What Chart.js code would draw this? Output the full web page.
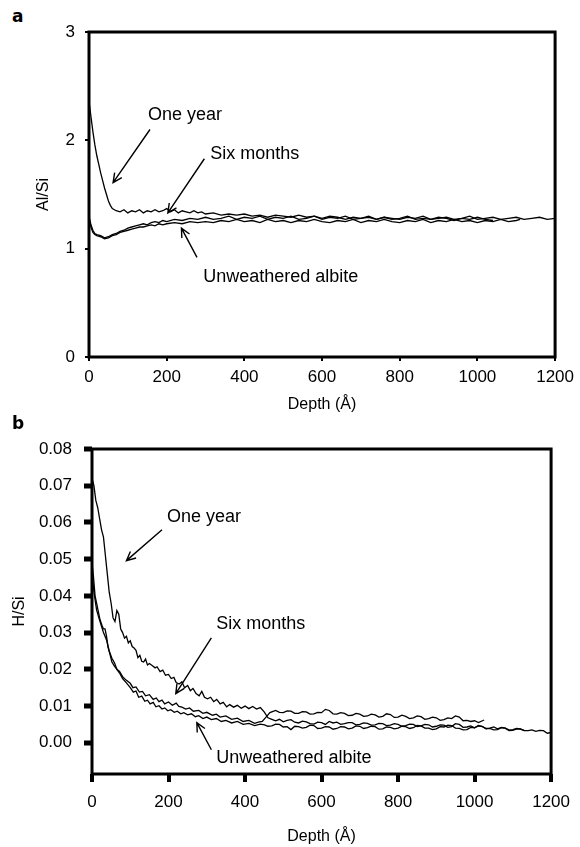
<!DOCTYPE html>
<html>
<head>
<meta charset="utf-8">
<script src="https://cdn.jsdelivr.net/npm/chart.js@4.4.1/dist/chart.umd.min.js"></script>
<style>
  body { margin: 0; background: #fff; }
  #wrap { position: relative; width: 580px; height: 847px; }
  canvas { position: absolute; left: 0; }
  .tag { position: absolute; left: 12px; font: bold 17px/17px "DejaVu Sans", Arial, sans-serif; color: #000; }
</style>
</head>
<body>
<div id="wrap">
  <div class="tag" style="top:8px">a</div>
  <canvas id="al-chart" width="580" height="415" style="top:0"></canvas>
  <div class="tag" style="top:415px">b</div>
  <canvas id="h-chart" width="580" height="427" style="top:420px"></canvas>
</div>
<script>
// tick values
const depthTicks = [0, 200, 400, 600, 800, 1000, 1200];
const alTicks = [0, 1, 2, 3];
const hTicks = [0, 0.01, 0.02, 0.03, 0.04, 0.05, 0.06, 0.07, 0.08];

// --- panel a: Al/Si vs depth (Å) ---
const oneYearAl = [
  [0,2.36],[5,2.22],[10,2.08],[15,1.96],[20,1.86],[25,1.78],[30,1.70],[35,1.63],[40,1.56],[45,1.50],
  [50,1.44],[55,1.40],[60,1.37],[70,1.35],[80,1.34],[90,1.36],[100,1.33],[110,1.35],[120,1.34],[130,1.36],
  [140,1.33],[150,1.35],[160,1.34],[170,1.36],[180,1.34],[190,1.35],[200,1.37],[210,1.34],[220,1.36],[230,1.33],
  [240,1.35],[250,1.34],[260,1.33],[270,1.35],[280,1.33],[290,1.34],[300,1.32],[320,1.33],[340,1.31],[360,1.32],
  [380,1.31],[400,1.32],[420,1.30],[440,1.31],[460,1.29],[480,1.31],[500,1.30],[520,1.29],[540,1.31],[560,1.29],
  [580,1.30],[600,1.28],[620,1.30],[640,1.29],[660,1.27],[680,1.29],[700,1.28],[720,1.30],[740,1.27],[760,1.29],
  [780,1.28],[800,1.27],[820,1.29],[840,1.28],[860,1.30],[880,1.27],[900,1.28],[920,1.29],[940,1.27],[960,1.28],
  [980,1.30],[1000,1.27],[1020,1.28],[1040,1.29],[1060,1.27],[1080,1.28],[1100,1.29],[1120,1.27],[1140,1.28],[1160,1.29],
  [1180,1.27],[1200,1.28]
];
const sixMonthsAl = [
  [0,1.30],[5,1.22],[10,1.17],[15,1.14],[20,1.13],[30,1.12],[40,1.10],[50,1.11],[60,1.13],[70,1.14],
  [80,1.16],[90,1.17],[100,1.19],[110,1.20],[120,1.21],[130,1.22],[140,1.23],[150,1.22],[160,1.24],[170,1.25],
  [180,1.24],[190,1.26],[200,1.25],[220,1.27],[240,1.26],[260,1.28],[280,1.27],[300,1.29],[320,1.27],[340,1.28],
  [360,1.30],[380,1.27],[400,1.29],[420,1.28],[440,1.30],[460,1.27],[480,1.29],[500,1.28],[520,1.30],[540,1.27],
  [560,1.28],[580,1.30],[600,1.27],[620,1.29],[640,1.28],[660,1.30],[680,1.27],[700,1.28],[720,1.29],[740,1.27],
  [760,1.29],[780,1.27],[800,1.28],[820,1.30],[840,1.27],[860,1.28],[880,1.27],[900,1.29],[920,1.28],[940,1.26],
  [960,1.28],[980,1.27],[1000,1.29],[1020,1.27],[1040,1.26]
];
const unweatheredAl = [
  [0,1.28],[5,1.20],[10,1.15],[15,1.13],[20,1.12],[30,1.11],[40,1.09],[50,1.10],[60,1.12],[70,1.13],
  [80,1.15],[90,1.16],[100,1.17],[110,1.18],[120,1.19],[130,1.20],[140,1.20],[150,1.21],[160,1.22],[170,1.21],
  [180,1.23],[190,1.22],[200,1.23],[220,1.24],[240,1.23],[260,1.25],[280,1.24],[300,1.25],[320,1.24],[340,1.26],
  [360,1.25],[380,1.27],[400,1.25],[420,1.26],[440,1.24],[460,1.27],[480,1.25],[500,1.26],[520,1.24],[540,1.26],
  [560,1.25],[580,1.27],[600,1.25],[620,1.24],[640,1.26],[660,1.25],[680,1.27],[700,1.24],[720,1.26],[740,1.25],
  [760,1.27],[780,1.25],[800,1.24],[820,1.26],[840,1.25],[860,1.27],[880,1.24],[900,1.26],[920,1.25],[940,1.27],
  [960,1.25],[980,1.26],[1000,1.24],[1020,1.26],[1040,1.25],[1060,1.27],[1080,1.25],[1100,1.26],[1110,1.27]
];

// --- panel b: H/Si vs depth (Å) ---
const oneYearH = [
  [0,0.072],[5,0.070],[10,0.066],[15,0.064],[20,0.061],[25,0.058],[30,0.056],[35,0.051],[40,0.046],[45,0.041],
  [50,0.038],[55,0.034],[60,0.033],[65,0.036],[70,0.035],[75,0.031],[80,0.030],[85,0.0285],[90,0.029],[95,0.0272],
  [100,0.0278],[105,0.0262],[110,0.0258],[115,0.0252],[120,0.0232],[125,0.0238],[130,0.0222],[135,0.0220],[140,0.0228],[145,0.0212],
  [150,0.0216],[158,0.0210],[165,0.0204],[170,0.0207],[178,0.0194],[185,0.0198],[192,0.0184],[200,0.0186],[207,0.0175],[214,0.0178],
  [220,0.0164],[228,0.0160],[235,0.0166],[242,0.0150],[250,0.0156],[257,0.0142],[264,0.0148],[272,0.0134],[280,0.0128],[287,0.0140],
  [294,0.0124],[302,0.0120],[310,0.0124],[318,0.0112],[326,0.0118],[335,0.0106],[343,0.0110],[352,0.0098],[360,0.0104],[370,0.0097],
  [380,0.0102],[390,0.0094],[400,0.0100],[410,0.0093],[420,0.0099],[430,0.0092],[440,0.0096],[450,0.0084],[460,0.0068],[470,0.0064],
  [480,0.0060],[490,0.0064],[500,0.0057],[510,0.0061],[520,0.0063],[530,0.0056],[540,0.0054],[550,0.0059],[560,0.0057],[570,0.0052],
  [580,0.0051],[590,0.0056],[600,0.0055],[610,0.0050],[620,0.0058],[630,0.0054],[640,0.0056],[650,0.0050],[660,0.0052],[670,0.0055],
  [680,0.0055],[690,0.0049],[700,0.0050],[710,0.0054],[720,0.0053],[730,0.0048],[740,0.0049],[750,0.0053],[760,0.0052],[770,0.0047],
  [780,0.0048],[790,0.0052],[800,0.0050],[810,0.0045],[820,0.0047],[830,0.0051],[840,0.0050],[850,0.0044],[860,0.0046],[870,0.0050],
  [880,0.0049],[890,0.0043],[900,0.0045],[910,0.0049],[920,0.0048],[930,0.0042],[940,0.0044],[950,0.0052],[960,0.0050],[970,0.0042],
  [980,0.0043],[990,0.0046],[1000,0.0041],[1010,0.0047],[1020,0.0044],[1030,0.0039],[1040,0.0040],[1050,0.0043],[1060,0.0038],[1070,0.0042],
  [1080,0.0040],[1090,0.0035],[1100,0.0036],[1110,0.0039],[1120,0.0038],[1130,0.0033],[1140,0.0033],[1150,0.0035],[1160,0.0031],[1170,0.0034],
  [1180,0.0033],[1190,0.0026],[1200,0.0028]
];
const sixMonthsH = [
  [0,0.049],[4,0.045],[8,0.040],[12,0.038],[16,0.036],[21,0.0335],[26,0.032],[30,0.031],[34,0.031],[38,0.029],
  [42,0.026],[46,0.0245],[52,0.022],[59,0.0208],[65,0.020],[72,0.0194],[80,0.018],[90,0.017],[100,0.0162],[107,0.0150],
  [115,0.0152],[124,0.0138],[132,0.0140],[140,0.0128],[150,0.0131],[160,0.0118],[168,0.0122],[175,0.0112],[183,0.0116],[190,0.0106],
  [200,0.0111],[210,0.0102],[220,0.0108],[227,0.0099],[235,0.0097],[245,0.0092],[255,0.0095],[265,0.0086],[279,0.0088],[290,0.0080],
  [300,0.0083],[315,0.0075],[325,0.0078],[335,0.0070],[350,0.0073],[365,0.0064],[380,0.0067],[395,0.0058],[410,0.0061],[425,0.0053],
  [435,0.0056],[445,0.0058],[455,0.0070],[465,0.0082],[480,0.0088],[490,0.0083],[500,0.0082],[510,0.0087],[520,0.0086],[530,0.0080],
  [540,0.0080],[550,0.0085],[560,0.0084],[570,0.0078],[580,0.0079],[590,0.0083],[600,0.0082],[610,0.0091],[620,0.0088],[630,0.0079],
  [640,0.0078],[650,0.0082],[660,0.0080],[670,0.0074],[680,0.0075],[690,0.0080],[700,0.0078],[710,0.0072],[720,0.0073],[730,0.0078],
  [740,0.0076],[750,0.0070],[760,0.0072],[770,0.0079],[780,0.0077],[790,0.0069],[800,0.0070],[810,0.0075],[820,0.0072],[830,0.0066],
  [840,0.0068],[850,0.0073],[860,0.0071],[870,0.0064],[880,0.0066],[890,0.0070],[900,0.0068],[910,0.0061],[920,0.0063],[930,0.0068],
  [940,0.0066],[950,0.0073],[960,0.0070],[970,0.0060],[980,0.0061],[990,0.0058],[1000,0.0060],[1010,0.0055],[1025,0.0062]
];
const unweatheredH = [
  [0,0.046],[4,0.042],[8,0.039],[12,0.0362],[18,0.034],[24,0.032],[30,0.030],[38,0.028],[45,0.025],[52,0.023],
  [59,0.0217],[65,0.020],[72,0.019],[80,0.0175],[90,0.0163],[100,0.0150],[108,0.0138],[115,0.0141],[122,0.0124],[130,0.0127],
  [138,0.0113],[145,0.0116],[152,0.0106],[160,0.0110],[167,0.0098],[175,0.0101],[183,0.0092],[190,0.0095],[198,0.0087],[206,0.0090],
  [215,0.0083],[223,0.0086],[232,0.0079],[240,0.0082],[250,0.0076],[260,0.0079],[270,0.0071],[279,0.0074],[290,0.0066],[300,0.0070],
  [312,0.0063],[325,0.0066],[338,0.0058],[350,0.0061],[365,0.0054],[380,0.0058],[395,0.0050],[410,0.0053],[425,0.0047],[440,0.0051],
  [451,0.0049],[460,0.0045],[470,0.0046],[480,0.0051],[490,0.0050],[500,0.0043],[510,0.0044],[520,0.0036],[530,0.0045],[540,0.0044],
  [550,0.0040],[560,0.0042],[570,0.0048],[580,0.0047],[590,0.0039],[600,0.0040],[610,0.0044],[620,0.0043],[630,0.0037],[640,0.0039],
  [650,0.0044],[660,0.0043],[670,0.0038],[680,0.0040],[690,0.0046],[700,0.0045],[710,0.0039],[720,0.0041],[730,0.0045],[740,0.0044],
  [750,0.0037],[760,0.0038],[770,0.0043],[780,0.0042],[790,0.0038],[800,0.0040],[810,0.0045],[820,0.0044],[830,0.0039],[840,0.0041],
  [850,0.0047],[860,0.0046],[870,0.0040],[880,0.0040],[890,0.0036],[900,0.0038],[910,0.0044],[920,0.0043],[930,0.0048],[940,0.0047],
  [950,0.0040],[960,0.0039],[970,0.0035],[980,0.0036],[990,0.0042],[1000,0.0041],[1010,0.0046],[1020,0.0045],[1030,0.0038],[1040,0.0039],
  [1050,0.0035],[1060,0.0036],[1070,0.0041],[1080,0.0040],[1090,0.0033],[1100,0.0034],[1110,0.0038],[1120,0.0037],[1130,0.0033]
];

// text labels with arrows, in data units
const alNotes = [
  { text: 'One year', at: [152, 2.23], from: [157, 2.10], to: [62, 1.61] },
  { text: 'Six months', at: [312, 1.87], from: [297, 1.83], to: [203, 1.33] },
  { text: 'Unweathered albite', at: [294, 0.74], from: [278, 0.92], to: [238, 1.19] }
];
const hNotes = [
  { text: 'One year', at: [196, 0.0616], from: [183, 0.058], to: [90, 0.0496] },
  { text: 'Six months', at: [325, 0.0324], from: [312, 0.0286], to: [219, 0.0134] },
  { text: 'Unweathered albite', at: [325, -0.0041], from: [312, -0.0019], to: [274, 0.0055] }
];

Chart.defaults.font.family = '"Liberation Sans", Arial, sans-serif';
Chart.defaults.font.size = 17;
Chart.defaults.color = '#000';

const notesPlugin = {
  id: 'notes',
  afterDatasetsDraw(chart, args, opts) {
    const ctx = chart.ctx;
    const xs = chart.scales.x, ys = chart.scales.y;
    ctx.save();
    ctx.fillStyle = '#000';
    ctx.strokeStyle = '#000';
    ctx.font = '18px "Liberation Sans", Arial, sans-serif';
    ctx.textBaseline = 'middle';
    ctx.textAlign = 'left';
    (opts.items || []).forEach(n => {
      ctx.fillText(n.text, xs.getPixelForValue(n.at[0]), ys.getPixelForValue(n.at[1]));
      const x1 = xs.getPixelForValue(n.from[0]), y1 = ys.getPixelForValue(n.from[1]);
      const x2 = xs.getPixelForValue(n.to[0]), y2 = ys.getPixelForValue(n.to[1]);
      const a = Math.atan2(y2 - y1, x2 - x1);
      ctx.lineWidth = 1.4;
      ctx.beginPath();
      ctx.moveTo(x1, y1);
      ctx.lineTo(x2, y2);
      ctx.moveTo(x2 - 10 * Math.cos(a - 0.45), y2 - 10 * Math.sin(a - 0.45));
      ctx.lineTo(x2, y2);
      ctx.lineTo(x2 - 10 * Math.cos(a + 0.45), y2 - 10 * Math.sin(a + 0.45));
      ctx.stroke();
    });
    // heavy box round the plot
    const ca = chart.chartArea;
    ctx.lineWidth = 3;
    ctx.strokeRect(ca.left, ca.top, ca.right - ca.left, ca.bottom - ca.top);
    ctx.restore();
  }
};

function lineSet(points) {
  return {
    data: points.map(p => ({ x: p[0], y: p[1] })),
    showLine: true,
    borderColor: '#000',
    borderWidth: 1.3,
    pointRadius: 0,
    tension: 0
  };
}

function makeChart(id, series, cfg) {
  return new Chart(document.getElementById(id), {
    type: 'scatter',
    data: { datasets: series.map(lineSet) },
    options: {
      responsive: false,
      animation: false,
      devicePixelRatio: 1,
      layout: { padding: { top: cfg.top, right: 23, left: 0, bottom: 0 } },
      plugins: { legend: { display: false }, tooltip: { enabled: false }, notes: { items: cfg.notes } },
      scales: {
        x: {
          type: 'linear', min: 0, max: 1200,
          afterBuildTicks: s => { s.ticks = depthTicks.map(v => ({ value: v })); },
          afterFit: s => { s.height = cfg.xHeight; },
          border: { display: false },
          grid: { drawOnChartArea: false, drawTicks: true, tickLength: cfg.xTick[0], tickWidth: cfg.xTick[1], tickColor: '#000', lineWidth: 0 },
          ticks: { padding: cfg.xPad, maxRotation: 0, callback: v => String(v) },
          title: { display: true, text: 'Depth (Å)', font: { size: 16 }, padding: { top: 0, bottom: 1 } }
        },
        y: {
          type: 'linear', min: cfg.yMin, max: cfg.yMax,
          afterBuildTicks: s => { s.ticks = cfg.yTicks.map(v => ({ value: v })); },
          afterFit: s => { s.width = cfg.yWidth; },
          border: { display: false },
          grid: { drawOnChartArea: false, drawTicks: true, tickLength: cfg.yTick[0], tickWidth: cfg.yTick[1], tickColor: '#000', lineWidth: 0 },
          ticks: { padding: cfg.yPad, callback: cfg.fmt },
          title: { display: true, text: cfg.yTitle, font: { size: 16 }, padding: { top: cfg.yTitlePad, bottom: 0 } }
        }
      }
    },
    plugins: [notesPlugin]
  });
}

makeChart('al-chart', [oneYearAl, sixMonthsAl, unweatheredAl], {
  top: 32, xHeight: 58, yWidth: 89, yMin: 0, yMax: 3, yTicks: alTicks,
  xTick: [4, 2], yTick: [4, 2], xPad: 6, yPad: 10, yTitle: 'Al/Si', yTitlePad: 34,
  fmt: v => String(v), notes: alNotes
});

makeChart('h-chart', [oneYearH, sixMonthsH, unweatheredH], {
  top: 29, xHeight: 73, yWidth: 92, yMin: -0.0085, yMax: 0.08, yTicks: hTicks,
  xTick: [8, 4], yTick: [8, 5], xPad: 10, yPad: 12, yTitle: 'H/Si', yTitlePad: 10,
  fmt: v => v.toFixed(2), notes: hNotes
});
</script>
</body>
</html>
